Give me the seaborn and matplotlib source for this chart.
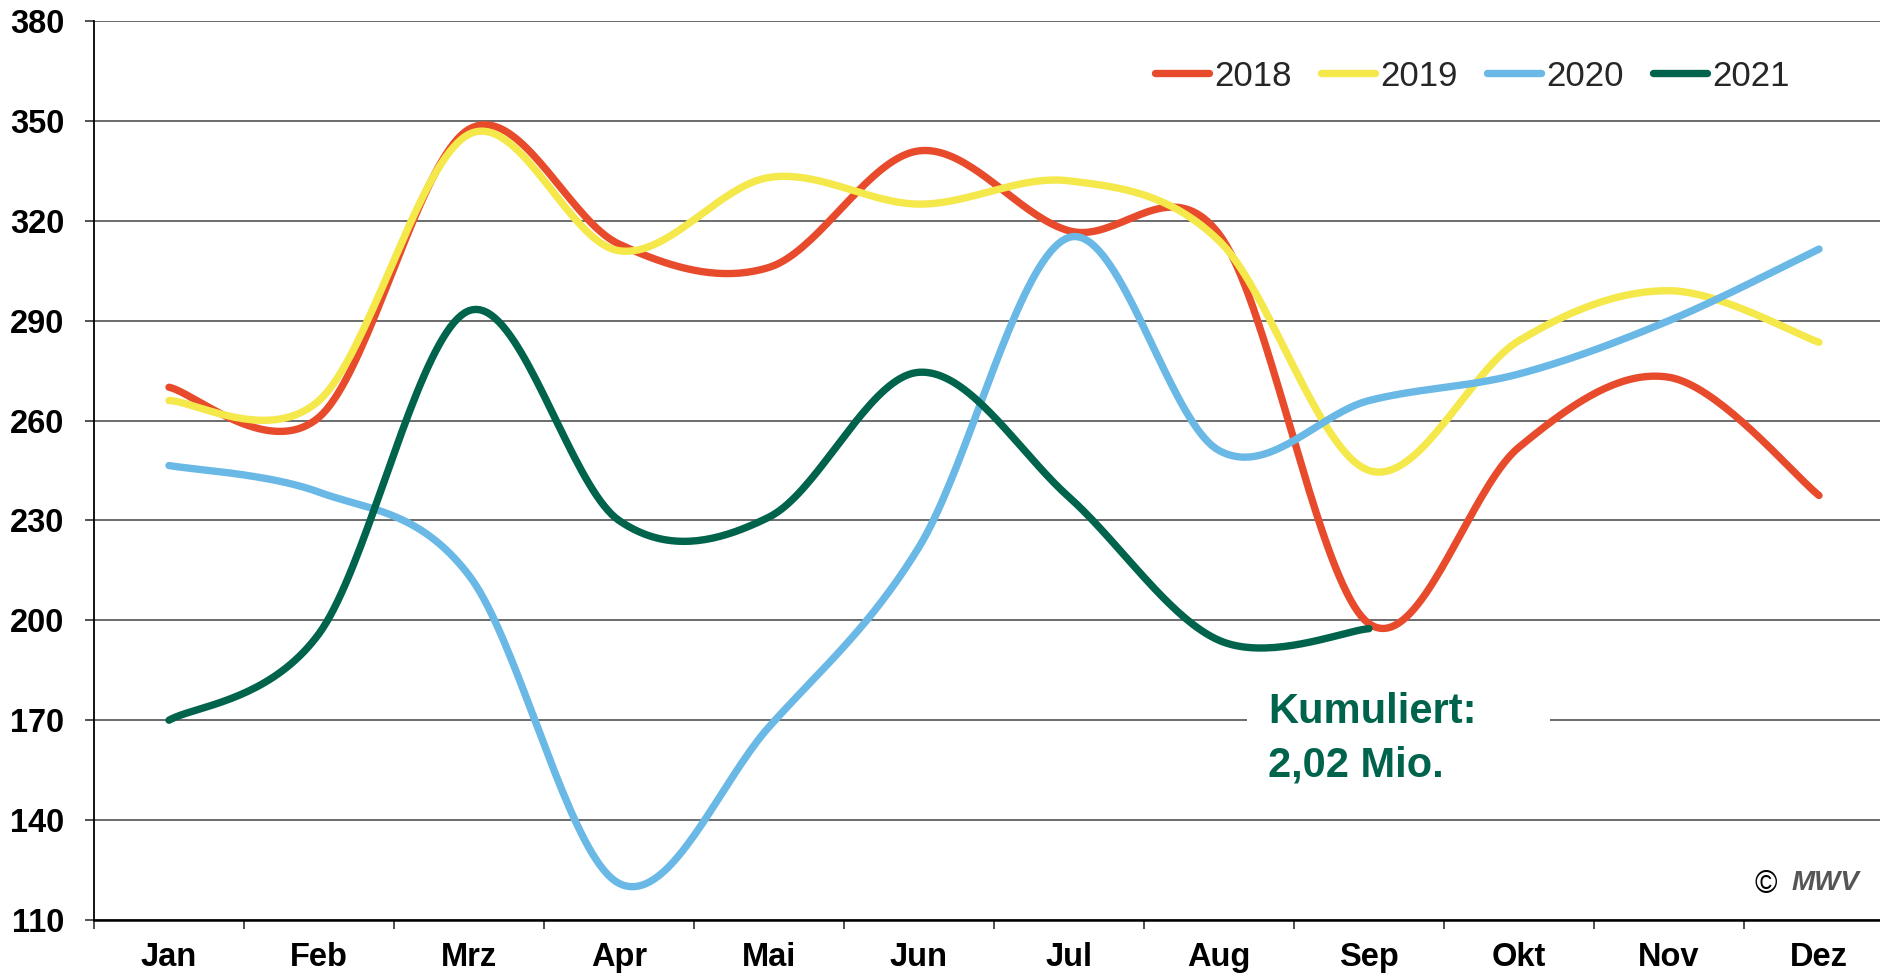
import numpy as np
import pandas as pd
import matplotlib
matplotlib.use("Agg")
import matplotlib.pyplot as plt
from matplotlib.patches import Rectangle
import seaborn as sns

# ---- data ----
months = ["Jan", "Feb", "Mrz", "Apr", "Mai", "Jun", "Jul", "Aug", "Sep", "Okt", "Nov", "Dez"]
years = ["2018", "2019", "2020", "2021"]
v2018 = [270, 261, 347.5, 313, 306, 341, 317, 316, 199, 252, 273, 237.5]
v2019 = [266, 266, 346, 311, 333, 325, 332, 314, 245, 284, 299, 283.5]
v2020 = [246.5, 238.5, 213.5, 121, 168, 222, 315, 251, 266, 274, 290, 311.5]
v2021 = [170, 196, 293, 230, 231, 274.5, 237, 194, 197.5]
yticks = [110, 140, 170, 200, 230, 260, 290, 320, 350, 380]
colors = ["#E84B2C", "#F5E84B", "#69B8E6", "#00634B"]
note_lines = ["Kumuliert:", "2,02 Mio."]

sns.set_style("white")
plt.rcParams["font.family"] = ["Liberation Sans", "DejaVu Sans"]

W, H = 1881, 975
fig = plt.figure(figsize=(W / 100, H / 100), dpi=100)
ax = fig.add_axes([94 / W, 55 / H, 1800 / W, 899 / H])


def smooth(vals, n=40):
    """Excel-like smoothed line (cubic Bezier through the points)."""
    y = np.asarray(vals, float)
    x = np.arange(len(y), dtype=float)
    P = np.column_stack([x, y])
    out = []
    for i in range(len(P) - 1):
        p0 = P[i - 1] if i > 0 else P[i]
        p1, p2 = P[i], P[i + 1]
        p3 = P[i + 2] if i + 2 < len(P) else P[i + 1]
        c1 = p1 + (p2 - p0) / 6
        c2 = p2 - (p3 - p1) / 6
        t = np.linspace(0, 1, n, endpoint=(i == len(P) - 2))[:, None]
        out.append((1 - t) ** 3 * p1 + 3 * (1 - t) ** 2 * t * c1
                   + 3 * (1 - t) * t ** 2 * c2 + t ** 3 * p2)
    return np.vstack(out)


for yr, vals, c in zip(years, [v2018, v2019, v2020, v2021], colors):
    pts = smooth(vals)
    df = pd.DataFrame({"x": pts[:, 0], "y": pts[:, 1]})
    sns.lineplot(data=df, x="x", y="y", sort=False, estimator=None, color=c,
                 lw=5.3, ax=ax, label=yr, solid_capstyle="round", zorder=3)

# axes & grid
ax.set_xlim(-0.5, 11.5)
ax.set_ylim(110, 380)
ax.set_yticks(yticks)
ax.set_yticklabels([str(v) for v in yticks], fontweight="bold")
ax.yaxis.grid(True, color="#606060", lw=1.3)
ax.xaxis.grid(False)
ax.set_axisbelow(True)
ax.set_xlabel("")
ax.set_ylabel("")

ax.set_xticks(np.arange(-0.5, 12, 1))
ax.set_xticklabels([])
ax.set_xticks(np.arange(len(months)), minor=True)
ax.set_xticklabels(months, minor=True, fontweight="bold")
ax.tick_params(axis="x", which="major", length=6.5, width=1.2, direction="out",
               color="#333333", bottom=True)
ax.tick_params(axis="x", which="minor", length=0, pad=16, labelsize=23.5,
               labelcolor="black", bottom=True)
ax.tick_params(axis="y", which="major", length=6.5, width=1.2, direction="out",
               color="#333333", pad=15, labelsize=23.5, labelcolor="black", left=True)

for s in ["top", "right"]:
    ax.spines[s].set_visible(False)
ax.spines["left"].set_color("black")
ax.spines["left"].set_linewidth(1.3)
ax.spines["bottom"].set_color("black")
ax.spines["bottom"].set_linewidth(1.8)

# annotation with white backing over the grid line
ax.add_patch(Rectangle((7.19, 158), 2.02, 24, facecolor="white", edgecolor="none", zorder=2))
ax.text(7.33, 169.1, note_lines[0], fontsize=30, fontweight="bold", color="#00634B",
        ha="left", va="baseline", zorder=4)
ax.text(7.33, 153.2, note_lines[1], fontsize=30, fontweight="bold", color="#00634B",
        ha="left", va="baseline", zorder=4)

# legend
handles, labels = ax.get_legend_handles_labels()
leg = ax.legend(handles, labels, loc="center left",
                bbox_to_anchor=(1155 / W, 1 - 76 / H), bbox_transform=fig.transFigure,
                ncol=4, frameon=False, fontsize=25, handlelength=1.55,
                handletextpad=0.15, columnspacing=0.85, borderpad=0, borderaxespad=0)
for ln in leg.get_lines():
    ln.set_linewidth(5.3)
    ln.set_solid_capstyle("round")

# copyright mark
fig.text(1766 / W, 1 - 885 / H, "\u00a9", fontsize=22, ha="center", va="center", color="black")
fig.text(1825 / W, 1 - 883 / H, "MWV", fontsize=20, fontweight="bold", style="italic",
         ha="center", va="center", color="#555555")

fig.savefig("out.png", dpi=100)
